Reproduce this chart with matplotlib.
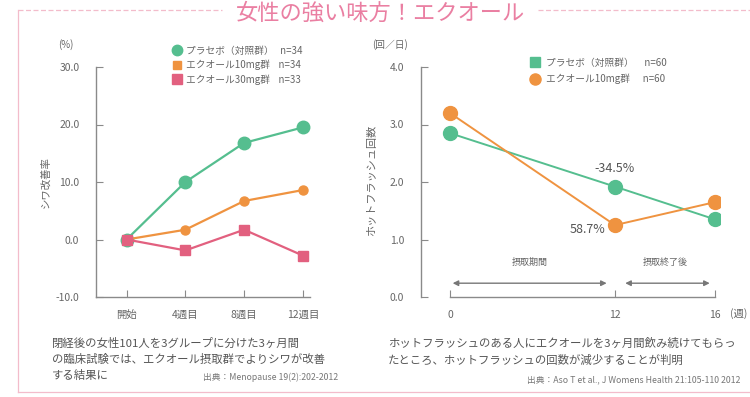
import numpy as np
import matplotlib
matplotlib.use("Agg")
import matplotlib.pyplot as plt
from matplotlib.lines import Line2D

plt.rcParams['font.family'] = ['Noto Sans CJK JP', 'DejaVu Sans']

# ---------------- data ----------------
title = "女性の強い味方！エクオール"

left_cats = ["開始", "4週目", "8週目", "12週目"]
left_placebo = [0.0, 10.0, 16.8, 19.5]
left_eq10 = [0.0, 1.7, 6.7, 8.6]
left_eq30 = [0.0, -1.9, 1.7, -2.8]
left_labels = ["プラセボ（対照群）   n=34", "エクオール10mg群    n=34", "エクオール30mg群    n=33"]
left_yticks = [-10, 0, 10, 20, 30]

right_weeks = [0, 12, 16]
right_placebo = [2.85, 1.92, 1.35]
right_eq10 = [3.20, 1.25, 1.65]
right_labels = ["プラセボ（対照群）     n=60", "エクオール10mg群      n=60"]
right_yticks = [0, 1, 2, 3, 4]
right_notes = ["-34.5%", "58.7%"]

cap_left = ["閉経後の女性101人を3グループに分けた3ヶ月間",
            "の臨床試験では、エクオール摂取群でよりシワが改善",
            "する結果に"]
src_left = "出典：Menopause 19(2):202-2012"
cap_right = ["ホットフラッシュのある人にエクオールを3ヶ月間飲み続けてもらっ",
             "たところ、ホットフラッシュの回数が減少することが判明"]
src_right = "出典：Aso T et al., J Womens Health 21:105-110 2012"

GREEN = "#55be8f"
ORANGE = "#ef9340"
PINK = "#e2607f"
GRAY = "#666666"
AX = "#8a8a8a"

W, H = 750, 397
fig = plt.figure(figsize=(7.5, 3.97), dpi=100)
fig.patch.set_facecolor("white")

def fx(px):
    return px / W

def fy(py):
    return 1 - py / H

# frame lines
fc = "#f3bccb"
fig.add_artist(Line2D([fx(18), fx(18)], [fy(10), fy(392)], color=fc, lw=0.9))
fig.add_artist(Line2D([fx(18), fx(750)], [fy(392), fy(392)], color=fc, lw=0.9))
fig.add_artist(Line2D([fx(18), fx(222)], [fy(10), fy(10)], color=fc, lw=0.9, ls=(0, (4, 2))))
fig.add_artist(Line2D([fx(538), fx(750)], [fy(10), fy(10)], color=fc, lw=0.9, ls=(0, (4, 2))))
fig.text(fx(380), fy(13), title, color="#ea7fa2", fontsize=16, ha="center", va="center")

# ---------------- left chart ----------------
axL = fig.add_axes([fx(96), fy(297), fx(310 - 96), (297 - 67) / H])
xi = np.arange(len(left_cats))
axL.plot(xi, left_placebo, color=GREEN, lw=1.6, marker="o", ms=9, zorder=3)
axL.plot(xi, left_eq10, color=ORANGE, lw=1.6, marker="o", ms=6.5, zorder=3)
axL.plot(xi, left_eq30, color=PINK, lw=1.6, marker="s", ms=7.5, zorder=3)
axL.set_ylim(-10, 30)
axL.set_xlim(-0.52, 3.12)
axL.set_yticks(left_yticks)
axL.set_yticklabels([f"{v:.1f}" for v in left_yticks])
axL.set_xticks(xi)
axL.set_xticklabels(left_cats)
for s in ["top", "right"]:
    axL.spines[s].set_visible(False)
for s in ["left", "bottom"]:
    axL.spines[s].set_color(AX)
    axL.spines[s].set_linewidth(1.0)
axL.tick_params(direction="in", length=5, color=AX, labelcolor=GRAY, labelsize=7.5, pad=12)
axL.tick_params(axis="x", pad=9)
fig.text(fx(66), fy(45), "(%)", fontsize=7, color=GRAY, ha="center", va="center")
fig.text(fx(45), fy(182), "シワ改善率", fontsize=7.5, color=GRAY, rotation=90, ha="center", va="center")

hL = [Line2D([], [], color=GREEN, marker="o", ls="none", ms=7.5),
      Line2D([], [], color=ORANGE, marker="s", ls="none", ms=6),
      Line2D([], [], color=PINK, marker="s", ls="none", ms=7)]
legL = fig.legend(hL, left_labels, loc="upper left", bbox_to_anchor=(fx(168), fy(42)),
                  frameon=False, fontsize=7, handletextpad=0.4, labelspacing=0.4,
                  borderaxespad=0, handlelength=1.0)
for t in legL.get_texts():
    t.set_color(GRAY)

# ---------------- right chart ----------------
def fwd(x):
    x = np.asarray(x, dtype=float)
    return np.where(x <= 12, x / 12 * 165, 165 + (x - 12) * 25)

def inv(u):
    u = np.asarray(u, dtype=float)
    return np.where(u <= 165, u / 165 * 12, 12 + (u - 165) / 25)

axR = fig.add_axes([fx(421), fy(297), fx(720 - 421), (297 - 67) / H])
axR.set_xscale("function", functions=(fwd, inv))
axR.plot(right_weeks, right_placebo, color=GREEN, lw=1.4, marker="o", ms=10, zorder=3)
axR.plot(right_weeks, right_eq10, color=ORANGE, lw=1.4, marker="o", ms=10, zorder=3)
axR.set_xlim(-2.1, 16.2)
axR.set_ylim(0, 4)
axR.set_yticks(right_yticks)
axR.set_yticklabels([f"{v:.1f}" for v in right_yticks])
axR.set_xticks(right_weeks)
axR.set_xticklabels([str(w) for w in right_weeks])
axR.xaxis.set_minor_locator(matplotlib.ticker.NullLocator())
for s in ["top", "right"]:
    axR.spines[s].set_visible(False)
for s in ["left", "bottom"]:
    axR.spines[s].set_color(AX)
    axR.spines[s].set_linewidth(1.0)
axR.spines["bottom"].set_bounds(0, 16)
axR.tick_params(direction="in", length=5, color=AX, labelcolor=GRAY, labelsize=7.5, pad=12)
axR.tick_params(axis="x", pad=9)
axR.text(16.6, -0.29, "(週)", fontsize=7.5, color=GRAY, ha="left", va="center", clip_on=False)
fig.text(fx(390), fy(45), "(回／日)", fontsize=7, color=GRAY, ha="center", va="center")
fig.text(fx(372), fy(180), "ホットフラッシュ回数", fontsize=8, color=GRAY, rotation=90, ha="center", va="center")

axR.text(12, 2.24, right_notes[0], fontsize=9, color="#555555", ha="center", va="center")
axR.text(10.0, 1.17, right_notes[1], fontsize=9, color="#555555", ha="center", va="center")

arr = dict(arrowstyle="<|-|>", color="#777777", lw=1.0, mutation_scale=8)
axR.annotate("", xy=(0, 0.24), xytext=(11.6, 0.24), arrowprops=arr)
axR.annotate("", xy=(12.3, 0.24), xytext=(15.9, 0.24), arrowprops=arr)
axR.text(5.8, 0.6, "摂取期間", fontsize=6.5, color=GRAY, ha="center", va="center")
axR.text(14.0, 0.6, "摂取終了後", fontsize=6.5, color=GRAY, ha="center", va="center")

hR = [Line2D([], [], color=GREEN, marker="s", ls="none", ms=7.5),
      Line2D([], [], color=ORANGE, marker="o", ls="none", ms=8)]
legR = fig.legend(hR, right_labels, loc="upper left", bbox_to_anchor=(fx(526), fy(54)),
                  frameon=False, fontsize=7, handletextpad=0.7, labelspacing=0.6,
                  borderaxespad=0, handlelength=1.0)
for t in legR.get_texts():
    t.set_color(GRAY)

# ---------------- captions ----------------
for i, line in enumerate(cap_left):
    fig.text(fx(52), fy(343 + i * 16), line, fontsize=8.2, color="#555555", ha="left", va="center")
fig.text(fx(338), fy(377), src_left, fontsize=6.3, color="#777777", ha="right", va="center")
for i, line in enumerate(cap_right):
    fig.text(fx(388), fy(343 + i * 17), line, fontsize=8.2, color="#555555", ha="left", va="center")
fig.text(fx(740), fy(380), src_right, fontsize=6.3, color="#777777", ha="right", va="center")

fig.savefig("out.png", dpi=100, facecolor="white")
